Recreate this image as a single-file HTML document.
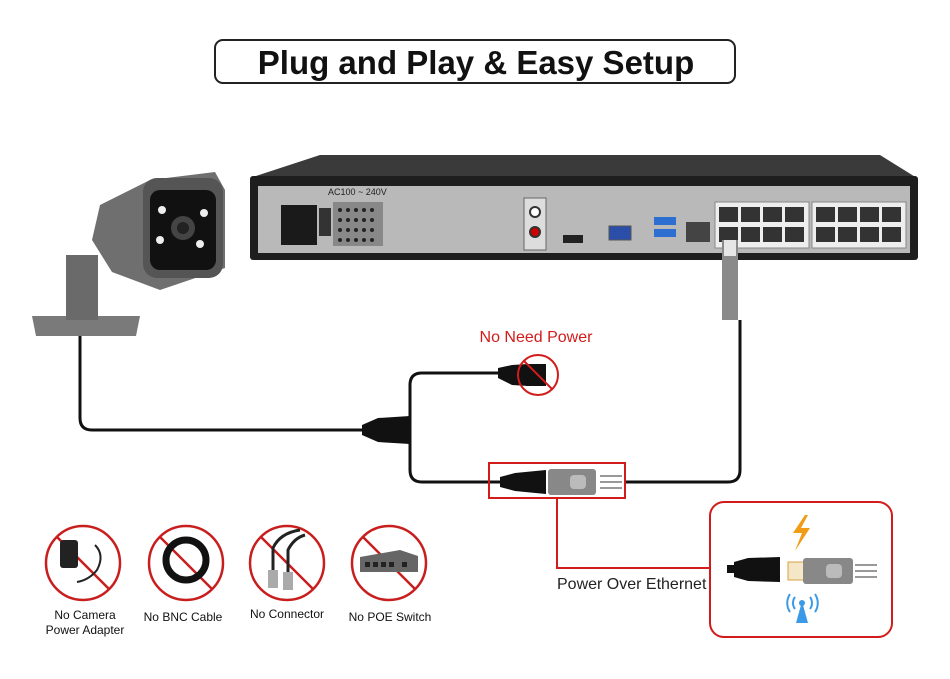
<!DOCTYPE html>
<html><head><meta charset="utf-8"><style>
html,body{margin:0;padding:0;background:#fff;}
svg{display:block;font-family:"Liberation Sans",Arial,sans-serif;}
</style></head><body>
<svg width="950" height="679" viewBox="0 0 950 679" xmlns="http://www.w3.org/2000/svg">
<rect width="950" height="679" fill="#fff"/>
<!-- Title -->
<rect x="215" y="40" width="520" height="43" rx="8" fill="#fff" stroke="#222" stroke-width="2"/>
<text x="476" y="74" text-anchor="middle" font-size="33" font-weight="bold" fill="#111">Plug and Play &amp; Easy Setup</text>

<!-- NVR -->
<polygon points="320,155 880,155 917,178 250,178" fill="#3a3a3a"/>
<rect x="250" y="176" width="668" height="84" rx="3" fill="#1e1e1e"/>
<rect x="258" y="186" width="652" height="67" fill="#b9b9b9"/>
<text x="328" y="195" font-size="9" fill="#222">AC100 ~ 240V</text>
<rect x="281" y="205" width="36" height="40" fill="#1a1a1a"/>
<rect x="319" y="208" width="12" height="28" fill="#333"/>
<rect x="333" y="202" width="50" height="44" fill="#888"/>
<g fill="#222">
<circle cx="340" cy="210" r="2"/><circle cx="348" cy="210" r="2"/><circle cx="356" cy="210" r="2"/><circle cx="364" cy="210" r="2"/><circle cx="372" cy="210" r="2"/>
<circle cx="340" cy="220" r="2"/><circle cx="348" cy="220" r="2"/><circle cx="356" cy="220" r="2"/><circle cx="364" cy="220" r="2"/><circle cx="372" cy="220" r="2"/>
<circle cx="340" cy="230" r="2"/><circle cx="348" cy="230" r="2"/><circle cx="356" cy="230" r="2"/><circle cx="364" cy="230" r="2"/><circle cx="372" cy="230" r="2"/>
<circle cx="340" cy="240" r="2"/><circle cx="348" cy="240" r="2"/><circle cx="356" cy="240" r="2"/><circle cx="364" cy="240" r="2"/><circle cx="372" cy="240" r="2"/>
</g>
<rect x="524" y="198" width="22" height="52" fill="#ddd" stroke="#666"/>
<circle cx="535" cy="212" r="5" fill="#fff" stroke="#333" stroke-width="2"/>
<circle cx="535" cy="232" r="5" fill="#c00" stroke="#333" stroke-width="2"/>
<rect x="563" y="235" width="20" height="8" fill="#222"/>
<rect x="609" y="226" width="22" height="14" fill="#2b4fa8" stroke="#555"/>
<rect x="654" y="217" width="22" height="8" fill="#2c6fd1"/>
<rect x="654" y="229" width="22" height="8" fill="#2c6fd1"/>
<rect x="686" y="222" width="24" height="20" fill="#444"/>
<rect x="715" y="202" width="94" height="46" fill="#eee" stroke="#888"/>
<rect x="812" y="202" width="94" height="46" fill="#eee" stroke="#888"/>
<g fill="#333">
<rect x="719" y="207" width="19" height="15"/><rect x="741" y="207" width="19" height="15"/><rect x="763" y="207" width="19" height="15"/><rect x="785" y="207" width="19" height="15"/>
<rect x="719" y="227" width="19" height="15"/><rect x="741" y="227" width="19" height="15"/><rect x="763" y="227" width="19" height="15"/><rect x="785" y="227" width="19" height="15"/>
<rect x="816" y="207" width="19" height="15"/><rect x="838" y="207" width="19" height="15"/><rect x="860" y="207" width="19" height="15"/><rect x="882" y="207" width="19" height="15"/>
<rect x="816" y="227" width="19" height="15"/><rect x="838" y="227" width="19" height="15"/><rect x="860" y="227" width="19" height="15"/><rect x="882" y="227" width="19" height="15"/>
</g>
<rect x="722" y="240" width="16" height="80" fill="#8a8a8a"/>
<rect x="724" y="240" width="12" height="16" fill="#e6e6e6"/>

<!-- Camera -->
<polygon points="32,316 140,316 136,336 36,336" fill="#7a7a7a"/>
<rect x="66" y="255" width="32" height="65" fill="#6a6a6a"/>
<polygon points="100,205 150,180 215,172 225,190 225,268 160,290 112,272 92,240" fill="#6f6f6f"/>
<rect x="143" y="178" width="80" height="100" rx="14" fill="#555"/>
<rect x="150" y="190" width="66" height="80" rx="10" fill="#111"/>
<circle cx="183" cy="228" r="12" fill="#444"/><circle cx="183" cy="228" r="6" fill="#222"/>
<circle cx="162" cy="210" r="4" fill="#eee"/><circle cx="204" cy="213" r="4" fill="#eee"/>
<circle cx="160" cy="240" r="4" fill="#eee"/><circle cx="200" cy="244" r="4" fill="#eee"/>

<!-- Cables -->
<g fill="none" stroke="#111" stroke-width="3">
<path d="M80,336 V418 Q80,430 92,430 H362"/>
<path d="M410,430 V385 Q410,373 422,373 H498"/>
<path d="M410,430 V470 Q410,482 422,482 H500"/>
<path d="M625,482 H728 Q740,482 740,470 V320"/>
</g>
<polygon points="362,425 378,418 410,416 410,444 378,442 362,435" fill="#111"/>
<polygon points="498,368 512,365 528,364 528,386 512,385 498,378" fill="#111"/>
<rect x="526" y="364" width="20" height="22" fill="#111"/>
<circle cx="538" cy="375" r="20" fill="none" stroke="#d21c1c" stroke-width="2"/>
<line x1="524" y1="361" x2="552" y2="389" stroke="#d21c1c" stroke-width="2"/>
<text x="536" y="342" text-anchor="middle" font-size="16" fill="#d21c1c">No Need Power</text>

<polygon points="500,477 515,473 546,470 546,494 515,491 500,487" fill="#111"/>
<rect x="548" y="469" width="48" height="26" rx="3" fill="#888"/>
<rect x="570" y="475" width="16" height="14" rx="4" fill="#bbb"/>
<g stroke="#999" stroke-width="2"><line x1="600" y1="476" x2="622" y2="476"/><line x1="600" y1="482" x2="622" y2="482"/><line x1="600" y1="488" x2="622" y2="488"/></g>
<rect x="489" y="463" width="136" height="35" fill="none" stroke="#d21c1c" stroke-width="2"/>
<path d="M557,498 V568 H710" fill="none" stroke="#d21c1c" stroke-width="2"/>
<text x="557" y="589" font-size="16" fill="#222">Power Over Ethernet</text>

<!-- Right box -->
<rect x="710" y="502" width="182" height="135" rx="14" fill="#fff" stroke="#d21c1c" stroke-width="2"/>
<polygon points="805,515 793,533 802,533 795,551 810,528 801,528 808,515" fill="#f29b16"/>
<rect x="727" y="565" width="8" height="8" fill="#111"/>
<polygon points="734,562 748,558 780,557 780,582 748,581 734,577" fill="#111"/>
<rect x="788" y="562" width="16" height="18" fill="#f4e7c8" stroke="#d9a040"/>
<rect x="803" y="558" width="50" height="26" rx="3" fill="#888"/>
<rect x="826" y="564" width="16" height="14" rx="4" fill="#bbb"/>
<g stroke="#999" stroke-width="2"><line x1="855" y1="565" x2="877" y2="565"/><line x1="855" y1="571" x2="877" y2="571"/><line x1="855" y1="577" x2="877" y2="577"/></g>
<g fill="none" stroke="#3b9ae8" stroke-width="2">
<path d="M795,597 a10,10 0 0 0 0,12"/><path d="M810,597 a10,10 0 0 1 0,12"/>
<path d="M790,594 a16,16 0 0 0 0,18"/><path d="M815,594 a16,16 0 0 1 0,18"/>
</g>
<circle cx="802" cy="603" r="3" fill="#3b9ae8"/>
<polygon points="801,605 803,605 808,623 796,623" fill="#3b9ae8"/>

<!-- Bottom icons -->
<g fill="none" stroke="#c81e1e" stroke-width="2.5">
<circle cx="83" cy="563" r="37"/><line x1="57" y1="537" x2="109" y2="589"/>
<circle cx="186" cy="563" r="37"/><line x1="160" y1="537" x2="212" y2="589"/>
<circle cx="287" cy="563" r="37"/><line x1="261" y1="537" x2="313" y2="589"/>
<circle cx="389" cy="563" r="37"/><line x1="363" y1="537" x2="415" y2="589"/>
</g>
<rect x="60" y="540" width="18" height="28" rx="3" fill="#222"/>
<path d="M95,545 q10,10 2,25 q-8,10 -20,12" fill="none" stroke="#222" stroke-width="2"/>
<circle cx="186" cy="560" r="20" fill="none" stroke="#111" stroke-width="7"/>
<rect x="268" y="570" width="10" height="18" fill="#aaa"/><rect x="283" y="572" width="10" height="18" fill="#aaa"/>
<path d="M273,570 V548 Q280,533 300,530 M288,572 V550 Q294,538 305,535" fill="none" stroke="#222" stroke-width="3"/>
<polygon points="360,557 400,550 418,556 418,572 360,572" fill="#666"/>
<g fill="#222"><rect x="365" y="562" width="5" height="5"/><rect x="373" y="562" width="5" height="5"/><rect x="381" y="562" width="5" height="5"/><rect x="389" y="562" width="5" height="5"/><rect x="402" y="562" width="5" height="5"/></g>
<g font-size="12" fill="#111" text-anchor="middle">
<text x="85" y="619">No Camera</text><text x="85" y="634">Power Adapter</text>
<text x="183" y="621">No BNC Cable</text>
<text x="287" y="618">No Connector</text>
<text x="390" y="621">No POE Switch</text>
</g>
</svg>
</body></html>
